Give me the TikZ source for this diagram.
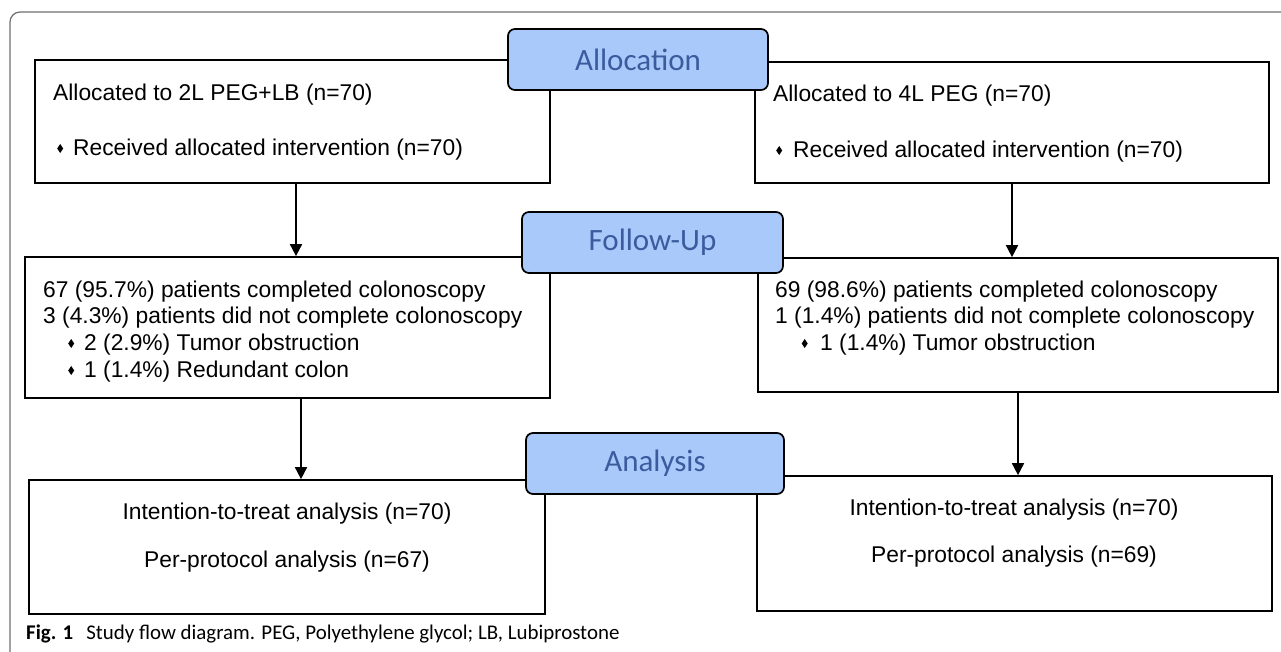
\documentclass[tikz,border=0pt]{standalone}
\usepackage{fontspec}
\setmainfont{Liberation Sans}
\newfontfamily\capfont{Carlito}
\usepackage{tikz}
\usetikzlibrary{arrows.meta}

\definecolor{phasefill}{HTML}{A9C9FA}
\definecolor{phasetext}{HTML}{3A5C9E}
\definecolor{framegray}{HTML}{6E6E6E}

% small diamond bullet
\newcommand{\bul}{\tikz[x=1pt,y=1pt,baseline=0pt]\fill (0,6.5)--(3,11)--(6,6.5)--(3,2)--cycle;}

\begin{document}
\begin{tikzpicture}[x=1pt,y=-1pt,
    box/.style={draw,line width=1.7pt,minimum width=#1,inner sep=0pt},
    phase/.style={draw,line width=1.7pt,fill=phasefill,rounded corners=7pt,
      minimum width=#1,minimum height=61pt,inner sep=0pt,
      text=phasetext,font=\capfont\fontsize{31}{31}\selectfont},
    txt/.style={anchor=base west,inner sep=0pt,font=\fontsize{22.8}{27}\selectfont},
    ctxt/.style={anchor=base,inner sep=0pt,font=\fontsize{22.8}{27}\selectfont},
    arr/.style={line width=1.7pt,-{Triangle[width=12pt,length=12pt]}}]
  \useasboundingbox (0,0) rectangle (1281,651);

  % outer frame
  \draw[framegray,line width=1.2pt,rounded corners=10pt] (10,660) -- (10,12) -- (1290,12);

  % boxes
  \node[box=515pt,minimum height=123pt] (a1) at (292.5,121.5) {};
  \node[box=514pt,minimum height=121pt] (a2) at (1012,122.5) {};
  \node[box=525pt,minimum height=141pt] (f1) at (287.5,327.5) {};
  \node[box=520pt,minimum height=134pt] (f2) at (1018,325) {};
  \node[box=516pt,minimum height=134pt] (n1) at (287,547) {};
  \node[box=515pt,minimum height=135pt] (n2) at (1014.5,543.5) {};

  % phase labels
  \node[phase=260pt] (alloc) at (638,59.5) {Allocation};
  \node[phase=261pt] (follow) at (652.5,242.5) {Follow-Up};
  \node[phase=258pt] (anal) at (655,463.5) {Analysis};

  % arrows
  \draw[arr] ([xshift=3.5pt]a1.south) -- ([xshift=3.5pt]a1.south |- f1.north);
  \draw[arr] (a2.south) -- (a2.south |- f2.north);
  \draw[arr] ([xshift=13.5pt]f1.south) -- ([xshift=13.5pt]f1.south |- n1.north);
  \draw[arr] (f2.south) -- (f2.south |- n2.north);

  % allocation texts
  \node[txt] (a1l1) at (53,100) {Allocated to 2L PEG+LB (n=70)};
  \node[txt] (a1l2) at (57,155) {\bul\hspace{10pt}Received allocated intervention (n=70)};
  \node[txt] (a2l1) at (773,101) {Allocated to 4L PEG (n=70)};
  \node[txt] (a2l2) at (776,157) {\bul\hspace{11pt}Received allocated intervention (n=70)};

  % follow-up texts
  \node[txt] (f1l1) at (43,297) {67 (95.7\%) patients completed colonoscopy};
  \node[txt] (f1l2) at (43,323) {3 (4.3\%) patients did not complete colonoscopy};
  \node[txt] (f1l3) at (68,350) {\bul\hspace{10pt}2 (2.9\%) Tumor obstruction};
  \node[txt] (f1l4) at (68,377) {\bul\hspace{10pt}1 (1.4\%) Redundant colon};
  \node[txt] (f2l1) at (775,297) {69 (98.6\%) patients completed colonoscopy};
  \node[txt] (f2l2) at (775,323) {1 (1.4\%) patients did not complete colonoscopy};
  \node[txt] (f2l3) at (801.5,350) {\bul\hspace{12.5pt}1 (1.4\%) Tumor obstruction};

  % analysis texts
  \node[ctxt] (n1l1) at (287,519) {Intention-to-treat analysis (n=70)};
  \node[ctxt] (n1l2) at (287,567) {Per-protocol analysis (n=67)};
  \node[ctxt] (n2l1) at (1014,515) {Intention-to-treat analysis (n=70)};
  \node[ctxt] (n2l2) at (1014,562) {Per-protocol analysis (n=69)};

  % caption
  \node[anchor=base west,inner sep=0pt,font=\capfont\fontsize{20.9}{24}\selectfont] (cap) at (26,639)
    {\textbf{Fig. 1}\hspace{13pt}Study flow diagram. PEG, Polyethylene glycol; LB, Lubiprostone};
\end{tikzpicture}
\end{document}
